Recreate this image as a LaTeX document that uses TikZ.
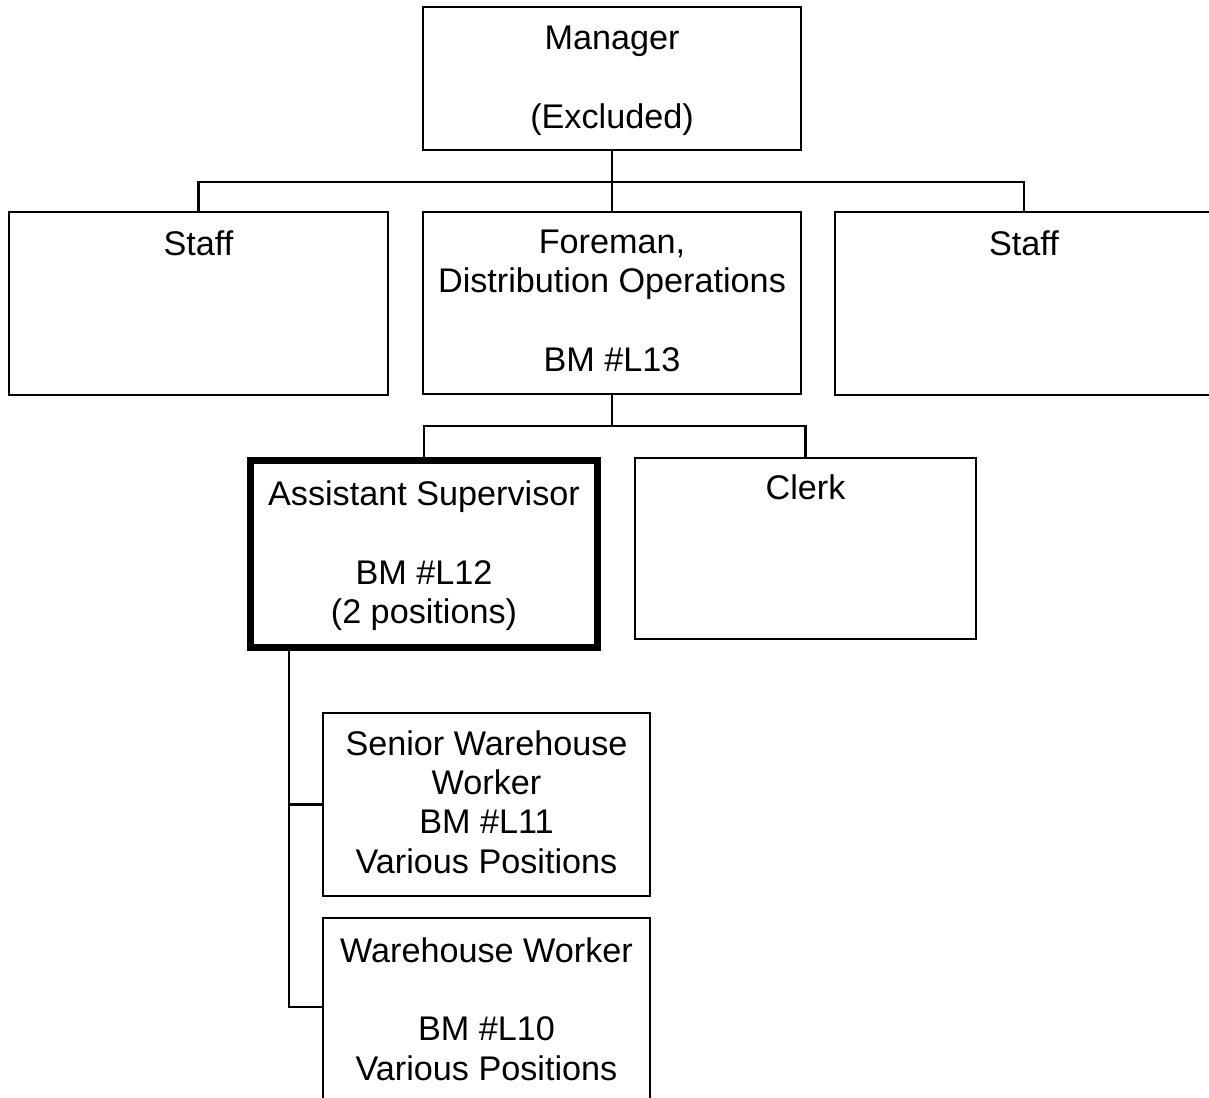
\documentclass[tikz,border=0pt]{standalone}
\usepackage{fontspec}
\setmainfont{Liberation Sans}
\newcommand\fsz{\fontsize{34.2}{39.3}\selectfont}
\newcommand\firstln{\rule{0pt}{30pt}}
\tikzset{
  box/.style={draw=black, line width=2.8pt, inner sep=0pt, outer sep=0pt, fill=white},
  thickbox/.style={box, line width=7pt},
  txt/.style={anchor=north, align=center, inner sep=0pt, font=\fsz},
  conn/.style={draw=black, line width=2.8pt}
}
\begin{document}
\begin{tikzpicture}[x=1pt, y=-1pt]
\useasboundingbox (0,0) rectangle (1209,1097);
% boxes
\node[box, minimum width=378pt, minimum height=143pt] (mgr) at (612,78.5) {};
\node[box, minimum width=379pt, minimum height=183pt] (staffL) at (198.5,303.5) {};
\node[box, minimum width=378pt, minimum height=182pt] (fore) at (612,303) {};
\node[box, minimum width=378pt, minimum height=183pt] (staffR) at (1024,303.5) {};
\node[thickbox, minimum width=347pt, minimum height=187pt] (asst) at (424,554) {};
\node[box, minimum width=341pt, minimum height=181pt] (clerk) at (805.5,548.5) {};
\node[box, minimum width=327pt, minimum height=183pt] (sr) at (486.5,804.5) {};
\node[box, minimum width=327pt, minimum height=184pt] (ww) at (486.5,1010) {};
% texts
\node[txt] (tmgr) at (612,19) {\firstln Manager\\[40pt](Excluded)};
\node[txt] (tstaffL) at (198.5,225) {\firstln Staff};
\node[txt] (tfore) at (612,223) {\firstln Foreman,\\Distribution Operations\\[40pt]BM \#L13};
\node[txt] (tstaffR) at (1024,225) {\firstln Staff};
\node[txt] (tasst) at (424,475) {\firstln Assistant Supervisor\\[40pt]BM \#L12\\(2 positions)};
\node[txt] (tclerk) at (805.5,469) {\firstln Clerk};
\node[txt] (tsr) at (486.5,725) {\firstln Senior Warehouse\\Worker\\BM \#L11\\Various Positions};
\node[txt] (tww) at (486.5,932) {\firstln Warehouse Worker\\[39.3pt]BM \#L10\\Various Positions};
% connectors
\draw[conn] (mgr.south) -- ++(0,32) coordinate (j1);
\draw[conn] (staffL.north) |- (j1) -| (staffR.north);
\draw[conn] (j1) -- (fore.north);
\draw[conn] (fore.south) -- ++(0,32) coordinate (j2);
\draw[conn] (asst.north) |- (j2) -| (clerk.north);
\coordinate (v1) at (289,804.5);
\coordinate (v2) at (289,1007);
\draw[conn] (v1 |- asst.south) -- (v2) -- (v2 -| ww.west);
\draw[conn] (v1) -- (sr.west);
\end{tikzpicture}
\end{document}
